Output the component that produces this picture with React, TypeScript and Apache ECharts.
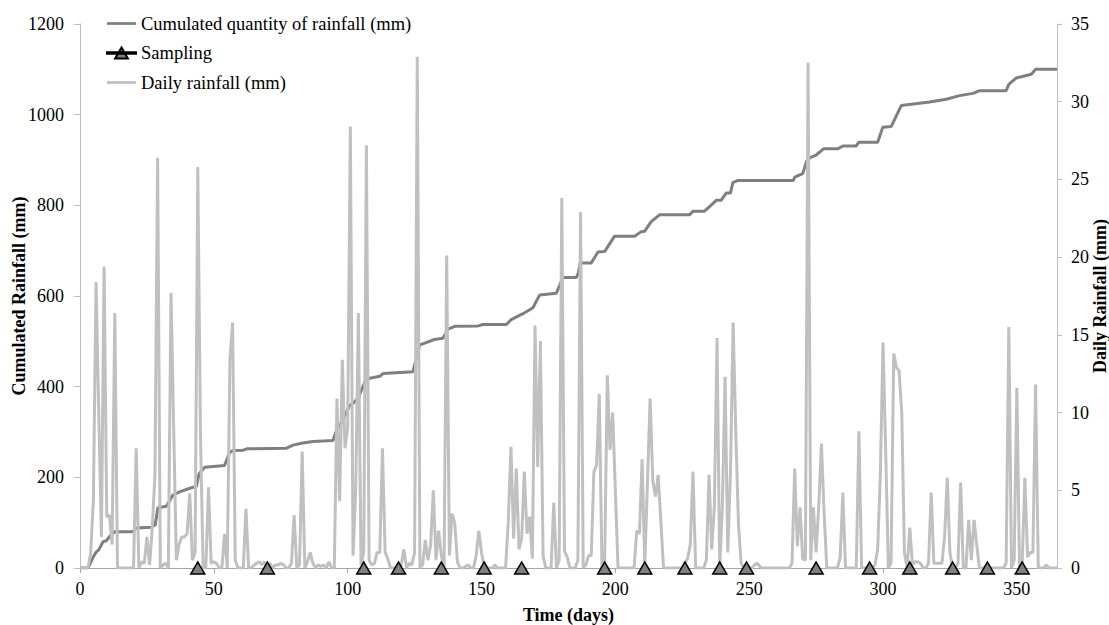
import React, { useEffect, useRef } from 'react';
import * as echarts from 'echarts';

// Daily rainfall (mm) for days 0..365
const dailyRainfall: number[] = [
  0, 0, 0, 0, 1, 4.4, 18.4, 10, 2.0, 19.4,
  3.3, 3.4, 1.5, 16.4, 0, 0, 0, 0, 0, 0,
  0, 7.7, 0, 0.4, 0.3, 2.0, 0.2, 2.6, 6, 26.4,
  0, 0.2, 0.3, 0, 17.7, 9, 0.5, 1.5, 2.0, 2.0,
  2.2, 4.8, 0.5, 1.0, 25.8, 8.7, 0, 0, 5.2, 0.3,
  0.4, 0.3, 0, 0, 2.2, 0, 13.4, 15.8, 0.5, 0,
  0, 0, 3.8, 0, 0, 0.2, 0.3, 0.4, 0.2, 0.4,
  0, 0.3, 0, 0.2, 0.2, 0.3, 0.2, 0, 0, 0.3,
  3.4, 0, 0.2, 7.5, 0, 0.4, 1.0, 0.3, 0, 0.2,
  0.1, 0.2, 0, 0.4, 0, 0, 10.9, 4.3, 13.4, 7.7,
  9, 28.4, 0.8, 5, 16.4, 0.2, 1, 27.2, 0.5, 0.2,
  0.3, 1.0, 1.0, 7.7, 1.0, 0.6, 0, 0, 0, 0.1,
  0.2, 1.2, 0, 0.3, 0.2, 1, 32.9, 0, 0.2, 1.8,
  0.5, 1.5, 5.0, 0.5, 2.4, 0.8, 0, 20.1, 0.8, 3.5,
  2.9, 0.4, 0, 0, 0.1, 0.2, 0, 0, 0.8, 2.4,
  1.0, 0, 0, 0, 0, 0.2, 0, 0, 0, 0,
  3, 7.8, 1.9, 6.4, 1.2, 1.9, 6.2, 2.2, 3.3, 0.6,
  15.6, 6.5, 14.6, 0.8, 0, 0, 0, 4.2, 0, 0.5,
  23.8, 1.1, 0.7, 0, 0, 0, 0.5, 22.9, 0, 0.2,
  0.8, 0.8, 6.2, 6.6, 11.2, 0, 0.3, 12.4, 7.6, 10.0,
  5, 0, 0, 0, 0, 0, 0, 0, 2.4, 2.2,
  7.0, 0.2, 5.5, 10.9, 5.6, 4.6, 6.0, 3, 0, 0,
  0, 0, 0, 0, 0, 0, 0.3, 0.6, 1.5, 6.2,
  0, 0, 0, 0, 0.5, 6.0, 1.2, 4, 14.8, 0,
  4, 12.3, 1.0, 6, 15.8, 8.7, 2.8, 0.3, 0, 0,
  0, 0, 0.2, 0.3, 0.1, 0, 0, 0, 0, 0,
  0, 0, 0, 0, 0, 0, 0.3, 6.4, 1.4, 3.9,
  0.6, 0.5, 32.5, 0.5, 3.9, 1.0, 4, 8.0, 3.5, 0,
  0, 0, 0, 0, 0.7, 4.85, 0, 0, 0, 0,
  0, 8.8, 0, 0, 0, 0, 0, 0.2, 1.2, 6,
  14.5, 7.5, 0, 0.3, 13.8, 12.9, 12.7, 10, 1.0, 0,
  2.6, 0.2, 0.4, 0.4, 0.3, 0, 0, 0.3, 4.85, 0.3,
  0.3, 0.3, 0.3, 2, 5.8, 1, 0, 0, 0.3, 5.5,
  0, 0, 3.1, 0.5, 3.1, 1.5, 0, 0, 0, 0,
  0, 0, 0, 0, 0, 0, 0.3, 15.5, 0, 0.5,
  11.6, 0, 0.3, 5.8, 0.7, 1.0, 1.0, 11.8, 0, 0,
  0, 0.2, 0, 0, 0, 0,
];

// Cumulated rainfall breakpoints: [day, mm]
const cumulatedRainfall: [number, number][] = [
  [0, 0], [3, 0], [5, 25], [6, 35], [7, 40], [8.6, 58], [9.8, 60], [11.7, 74], [13, 80],
  [19.8, 80], [21, 88], [26.6, 90], [28.1, 95], [29.1, 133], [32.3, 136], [34.7, 161],
  [37.2, 168], [41.6, 177], [43.5, 180], [44.5, 208], [46.6, 222], [54, 226], [55.9, 255],
  [57.2, 259], [61, 260], [62.3, 263], [77, 264], [79.6, 271], [82.7, 275], [87, 279],
  [94.5, 281], [95.8, 303], [98.2, 326], [100.7, 358], [102.6, 366], [104, 376], [106.9, 417],
  [112, 423], [113.2, 429], [124.4, 433], [126.9, 492], [128.8, 496], [132.4, 504],
  [135.6, 507], [137.5, 527], [140, 533], [148.7, 534], [150.5, 537], [159.3, 537],
  [161.1, 548], [165.5, 561], [169.2, 574], [171.7, 602], [177.9, 606], [179.1, 622],
  [180.4, 641], [185.4, 641], [186.1, 649], [186.9, 673], [191, 673], [193.5, 697],
  [196, 698], [199.7, 732], [207.2, 732], [209.7, 742], [211, 743], [213.4, 764],
  [216.5, 779], [227.7, 779], [229, 787], [233.3, 787], [235.2, 797], [237.7, 811],
  [239.5, 811], [241.4, 827], [243, 827], [243.9, 850], [245.8, 855], [266.5, 855],
  [267, 862], [270, 870], [271.5, 898], [272.7, 905], [275, 911], [277.9, 925],
  [283.2, 925], [285, 931], [290, 931], [290.9, 939], [298, 939], [299.9, 972],
  [303.1, 974], [306.8, 1020], [317.4, 1028], [323.6, 1034], [328.6, 1042], [333.6, 1047],
  [336.1, 1053], [346, 1053], [347, 1067], [349.8, 1081], [355.4, 1089], [357, 1100],
  [365, 1100],
];

// Sampling days
const samplingDays: number[] = [44, 70, 106, 119, 135, 151, 165, 196, 211, 226, 239, 249, 275, 295, 310, 326, 339, 352];

const CUM_NAME = 'Cumulated quantity of rainfall (mm)';
const SAMP_NAME = 'Sampling';
const DAILY_NAME = 'Daily rainfall (mm)';

const FONT = 'Liberation Serif';

const LINE_ICON = 'path://M0,0L32,0L32,3L0,3Z';
const SAMPLING_ICON = 'path://M0,5.2L32,5.2L32,6.8L0,6.8Z M16,0L23,12L9,12Z';

export default function App() {
  const ref = useRef<HTMLDivElement>(null);

  useEffect(() => {
    if (!ref.current) return;
    const chart = echarts.init(ref.current, undefined, { renderer: 'svg' });
    const plain = (v: number) => String(v);
    const titleStyle = { fontFamily: FONT, fontWeight: 'bold', fontSize: 18, color: '#000' };
    chart.setOption({
      animation: false,
      backgroundColor: '#ffffff',
      textStyle: { fontFamily: FONT },
      grid: { left: 80, right: 52, top: 24, bottom: 57, containLabel: false, outerBoundsMode: 'none' },
      legend: {
        orient: 'vertical',
        left: 106,
        top: 14,
        padding: 0,
        itemWidth: 29,
        itemHeight: 12,
        itemGap: 10.5,
        symbolKeepAspect: true,
        textStyle: { fontFamily: FONT, fontSize: 18.5, color: '#000' },
        data: [
          { name: CUM_NAME, icon: LINE_ICON },
          { name: SAMP_NAME, icon: SAMPLING_ICON },
          { name: DAILY_NAME, icon: LINE_ICON },
        ],
      },
      xAxis: {
        type: 'value',
        min: 0,
        max: 365,
        interval: 50,
        name: 'Time (days)',
        nameLocation: 'middle',
        nameGap: 38,
        nameMoveOverlap: false,
        nameTextStyle: titleStyle,
        axisLine: { show: true, lineStyle: { color: '#a6a6a6', width: 1 } },
        axisTick: { show: true, length: 5, lineStyle: { color: '#a6a6a6' } },
        axisLabel: { fontFamily: FONT, fontSize: 18, color: '#000', margin: 12, showMaxLabel: false, formatter: plain },
        splitLine: { show: false },
      },
      yAxis: [
        {
          type: 'value',
          min: 0,
          max: 1200,
          interval: 200,
          name: 'Cumulated Rainfall (mm)',
          nameLocation: 'middle',
          nameGap: 52,
          nameRotate: 90,
          nameMoveOverlap: false,
          nameTextStyle: titleStyle,
          axisLine: { show: true, lineStyle: { color: '#bfbfbf', width: 1 } },
          axisTick: { show: true, length: 6, lineStyle: { color: '#bfbfbf' } },
          axisLabel: { fontFamily: FONT, fontSize: 18, color: '#000', margin: 16, formatter: plain },
          splitLine: { show: false },
        },
        {
          type: 'value',
          min: 0,
          max: 35,
          interval: 5,
          position: 'right',
          name: 'Daily Rainfall (mm)',
          nameLocation: 'middle',
          nameGap: 34,
          nameRotate: 90,
          nameMoveOverlap: false,
          nameTextStyle: titleStyle,
          axisLine: { show: true, lineStyle: { color: '#bfbfbf', width: 1 } },
          axisTick: { show: true, length: 5, lineStyle: { color: '#bfbfbf' } },
          axisLabel: { fontFamily: FONT, fontSize: 18, color: '#000', margin: 14, formatter: plain },
          splitLine: { show: false },
        },
      ],
      series: [
        {
          name: CUM_NAME,
          type: 'line',
          yAxisIndex: 0,
          data: cumulatedRainfall,
          symbol: 'none',
          lineStyle: { color: '#7f7f7f', width: 3 },
          itemStyle: { color: '#7f7f7f' },
          z: 2,
        },
        {
          name: DAILY_NAME,
          type: 'line',
          yAxisIndex: 1,
          data: dailyRainfall.map((v, i) => [i, v]),
          symbol: 'none',
          lineStyle: { color: '#c0c0c0', width: 3 },
          itemStyle: { color: '#c0c0c0' },
          z: 3,
        },
        {
          name: SAMP_NAME,
          type: 'line',
          yAxisIndex: 0,
          data: samplingDays.map((d) => [d, 0]),
          symbol: 'triangle',
          symbolSize: [14, 12],
          showSymbol: true,
          clip: false,
          lineStyle: { width: 0, opacity: 0, color: '#000' },
          itemStyle: { color: '#808080', borderColor: '#000', borderWidth: 1.5 },
          z: 5,
        },
      ],
    });
    return () => chart.dispose();
  }, []);

  return (
    <div
      ref={ref}
      style={{ position: 'absolute', left: 0, top: 0, width: 1109, height: 625 }}
    />
  );
}
